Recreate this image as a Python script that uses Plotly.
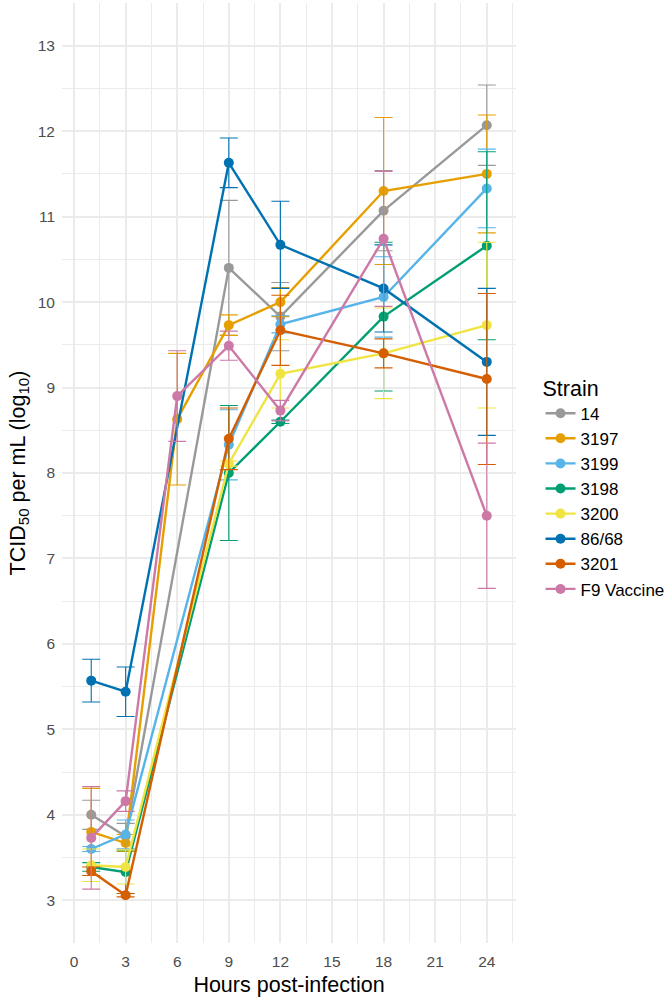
import plotly.graph_objects as go

hours = [1, 3, 6, 9, 12, 18, 24]
strains = ["14", "3197", "3199", "3198", "3200", "86/68", "3201", "F9 Vaccine"]
colors = ["#999999", "#E69F00", "#56B4E9", "#009E73", "#F0E442", "#0072B2", "#D55E00", "#CC79A7"]

mean_14 = [4.00, 3.75, None, 10.40, 9.83, 11.07, 12.07]
sd_14 = [0.17, 0.15, None, 0.79, 0.40, 0.47, 0.47]
mean_3197 = [3.80, 3.67, 8.63, 9.73, 10.00, 11.30, 11.50]
sd_3197 = [0.51, 0.10, 0.77, 0.12, 0.17, 0.86, 0.69]
mean_3199 = [3.60, 3.77, None, 8.33, 9.74, 10.06, 11.33]
sd_3199 = [0.03, 0.17, None, 0.41, 0.10, 0.47, 0.46]
mean_3198 = [3.39, 3.33, None, 8.00, 8.60, 9.83, 10.66]
sd_3198 = [0.05, 0.25, None, 0.79, 0.02, 0.87, 1.10]
mean_3200 = [3.41, 3.39, None, 8.11, 9.16, 9.40, 9.73]
sd_3200 = [0.19, 0.20, None, 0.03, 0.40, 0.53, 0.97]
mean_8668 = [5.57, 5.44, None, 11.63, 10.67, 10.16, 9.30]
sd_8668 = [0.25, 0.29, None, 0.29, 0.51, 0.51, 0.86]
mean_3201 = [3.34, 3.06, None, 8.40, 9.67, 9.40, 9.10]
sd_3201 = [0.05, 0.02, None, 0.36, 0.41, 0.17, 1.00]
mean_f9 = [3.73, 4.16, 8.90, 9.49, 8.73, 10.74, 7.50]
sd_f9 = [0.60, 0.12, 0.53, 0.17, 0.12, 0.79, 0.85]

means = [mean_14, mean_3197, mean_3199, mean_3198, mean_3200, mean_8668, mean_3201, mean_f9]
sds = [sd_14, sd_3197, sd_3199, sd_3198, sd_3200, sd_8668, sd_3201, sd_f9]

x_ticks = [0, 3, 6, 9, 12, 15, 18, 21, 24]
y_ticks = [3, 4, 5, 6, 7, 8, 9, 10, 11, 12, 13]

FONT = "Liberation Sans, Arial, Helvetica, sans-serif"

fig = go.Figure()
for name, col, m, s in zip(strains, colors, means, sds):
    xs = [h for h, v in zip(hours, m) if v is not None]
    ys = [v for v in m if v is not None]
    es = [e for e in s if e is not None]
    fig.add_trace(go.Scatter(
        x=xs, y=ys, name=name, mode="lines+markers",
        line=dict(color=col, width=2.4),
        marker=dict(color=col, size=10),
        error_y=dict(type="data", array=es, visible=True, color=col,
                     thickness=1.1, width=9),
    ))

grid = "#EBEBEB"
fig.update_layout(
    width=672, height=999,
    margin=dict(l=62, r=156, t=3, b=56, autoexpand=False),
    paper_bgcolor="white", plot_bgcolor="white",
    font=dict(family=FONT, color="black"),
    xaxis=dict(
        range=[-0.7, 25.7], tickmode="array", tickvals=x_ticks,
        showgrid=True, gridcolor=grid, gridwidth=1.5, zeroline=False,
        showline=False, ticks="", ticklabelstandoff=7,
        tickfont=dict(size=15.5, color="#4D4D4D"),
        minor=dict(dtick=1.5, tick0=0, showgrid=True, gridcolor=grid, gridwidth=0.8),
        title=dict(text="Hours post-infection", font=dict(size=21.5), standoff=8),
    ),
    yaxis=dict(
        range=[2.5, 13.5], tickmode="array", tickvals=y_ticks,
        showgrid=True, gridcolor=grid, gridwidth=1.5, zeroline=False,
        showline=False, ticks="", ticklabelstandoff=6,
        tickfont=dict(size=15.5, color="#4D4D4D"),
        minor=dict(dtick=0.5, tick0=0, showgrid=True, gridcolor=grid, gridwidth=0.8),
        title=dict(text="TCID<sub>50</sub> per mL (log<sub>10</sub>)", font=dict(size=21.5), standoff=6),
    ),
    legend=dict(
        x=1.054, xanchor="left", y=0.612, yanchor="top",
        title=dict(text="Strain", font=dict(size=21.5)),
        font=dict(size=17), tracegroupgap=0, itemwidth=30,
        bgcolor="rgba(0,0,0,0)",
    ),
    showlegend=True,
)

fig.write_html("out.html")
